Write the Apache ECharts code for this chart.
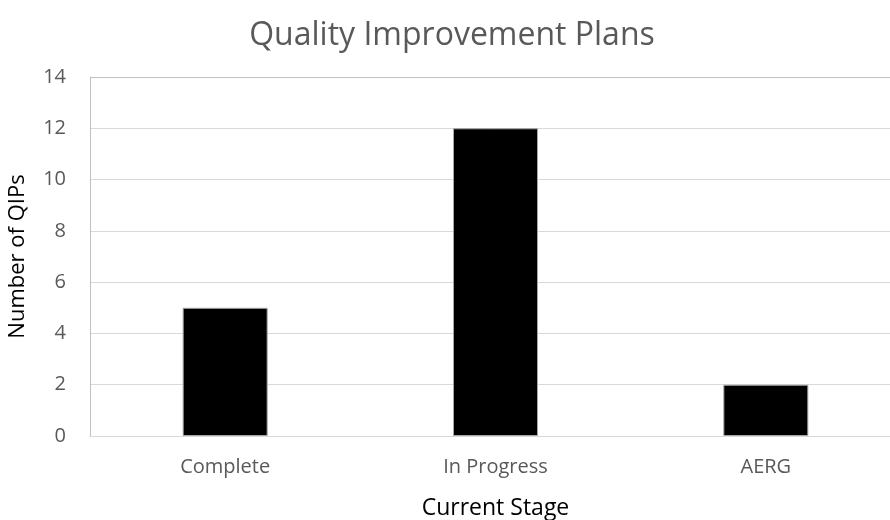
<!DOCTYPE html>
<html>
<head>
<meta charset="utf-8">
<script src="https://cdn.jsdelivr.net/npm/echarts@6/dist/echarts.min.js"></script>
<style>
  html,body{margin:0;padding:0;background:#fff;}
  #chart{width:890px;height:520px;}
</style>
</head>
<body>
<div id="chart"></div>
<script>
// data
const stages=['Complete','In Progress','AERG'];
const qipCounts=[5,12,2];

const chart=echarts.init(document.getElementById('chart'),null,{renderer:'canvas'});
const font='Open Sans';
const textCol='#595959';
// top gridline is a touch darker than the rest
const gridCols=['#d9d9d9','#d9d9d9','#d9d9d9','#d9d9d9','#d9d9d9','#d9d9d9','#d9d9d9','#c0c0c0'];

const option={
    backgroundColor:'#fff',
    animation:false,
    title:{
        text:'Quality Improvement Plans',
        left:447,
        textAlign:'center',
        top:15,
        textStyle:{fontFamily:font,fontSize:32,fontWeight:'normal',color:textCol}
    },
    grid:{
        left:90,
        top:77,
        right:-11,
        bottom:84,
        outerBoundsMode:'none',
        containLabel:false
    },
    xAxis:{
        type:'category',
        data:stages,
        name:'Current Stage',
        nameLocation:'middle',
        nameGap:61,
        nameTextStyle:{fontFamily:font,fontSize:23,color:'#000'},
        axisLine:{show:true,lineStyle:{color:'#d9d9d9',width:1}},
        axisTick:{show:false},
        axisLabel:{fontFamily:font,fontSize:20,color:textCol,margin:21}
    },
    yAxis:{
        type:'value',
        min:0,
        max:14,
        interval:2,
        name:'Number of QIPs',
        nameLocation:'middle',
        nameGap:61,
        nameTextStyle:{fontFamily:font,fontSize:22,color:'#000'},
        axisLine:{show:true,lineStyle:{color:'#bfbfbf',width:1}},
        axisTick:{show:false},
        splitLine:{lineStyle:{color:gridCols,width:1}},
        axisLabel:{fontFamily:font,fontSize:20,color:textCol,margin:24}
    },
    series:[{
        type:'bar',
        data:qipCounts,
        barWidth:85,
        itemStyle:{color:'#000',borderColor:'#a6a6a6',borderWidth:1}
    }]
};
chart.setOption(option);
</script>
</body>
</html>
